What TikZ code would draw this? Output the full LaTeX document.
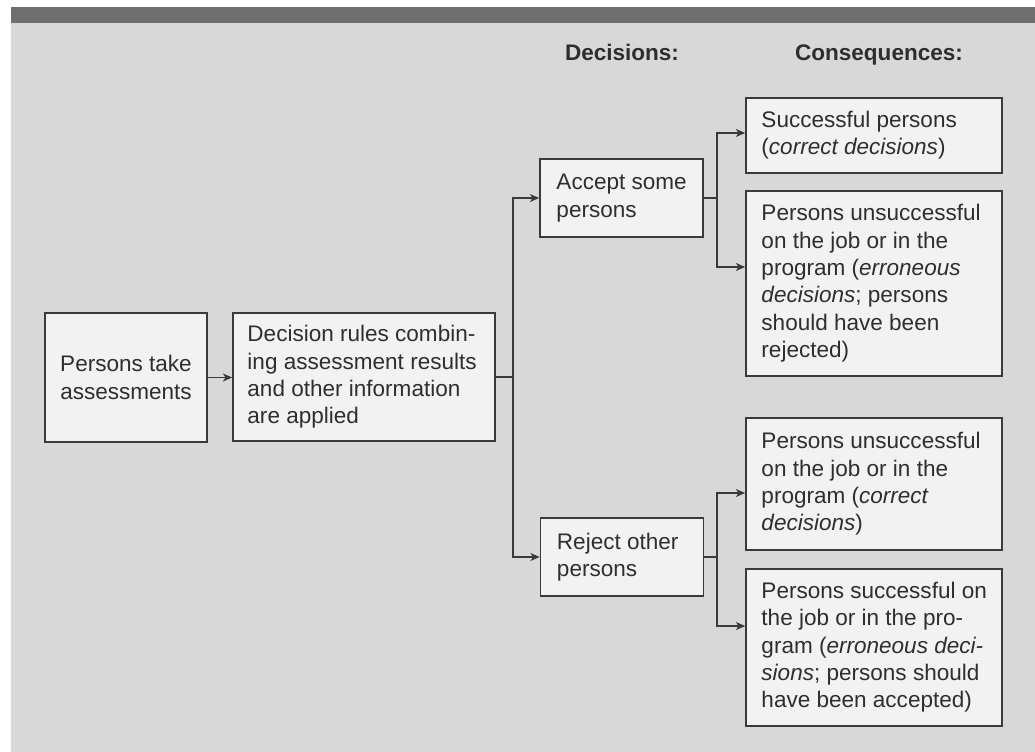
\documentclass[tikz,border=0pt]{standalone}
\usepackage{fontspec}
\setmainfont{Liberation Sans}
\usetikzlibrary{arrows.meta,calc}
\definecolor{bandc}{HTML}{6E6E6E}
\definecolor{bgc}{HTML}{D8D8D8}
\definecolor{boxc}{HTML}{F2F2F2}
\definecolor{linec}{HTML}{3A3A3A}
\definecolor{txtc}{HTML}{2E2E2E}
\begin{document}
\begin{tikzpicture}[x=0.75pt,y=-0.75pt,
  every node/.style={text=txtc},
  boxnode/.style={draw=linec,fill=boxc,line width=1.2pt,inner sep=0pt},
  txtnode/.style={font=\fontsize{16.9}{20.5}\selectfont,align=left,inner sep=0pt,anchor=west},
  headnode/.style={font=\fontsize{16.9}{20.5}\selectfont\bfseries,inner sep=0pt,anchor=base},
  arr/.style={draw=linec,line width=0.9pt,-{Stealth[length=7pt,width=6pt,inset=2pt]}},
  ln/.style={draw=linec,line width=0.9pt}]
\useasboundingbox (0,0) rectangle (1035,752);
\fill[white] (0,0) rectangle (1035,752);
\fill[bgc] (11,7) rectangle (1035,752);
\fill[bandc] (11,7) rectangle (1035,23);

% headers
\node[headnode] (hd) at (622,61) {Decisions:};
\node[headnode] (hc) at (879,61) {Consequences:};

% boxes
\node[boxnode,minimum width=121.5pt,minimum height=96.75pt,
  font=\fontsize{16.9}{20.5}\selectfont,align=center] (b1) at (126,377.5)
  {Persons take\\assessments};
\node[boxnode,minimum width=196.5pt,minimum height=96pt] (b2) at (364,377) {};
\node[txtnode] (b2t) at ([xshift=11.25pt]b2.west)
  {Decision rules combin-\\ing assessment results\\and other information\\are applied};

\node[boxnode,minimum width=122.25pt,minimum height=58.5pt] (a) at (621.5,198) {};
\node[txtnode] (at) at ([xshift=12.75pt]a.west) {Accept some\\persons};
\node[boxnode,minimum width=122.25pt,minimum height=58.5pt] (r) at (622,557) {};
\node[txtnode] (rt) at ([xshift=12.75pt]r.west) {Reject other\\persons};

\node[boxnode,minimum width=192pt,minimum height=56.25pt] (c1) at (874,135.5) {};
\node[txtnode] (c1t) at ([xshift=12pt]c1.west)
  {Successful persons\\(\textit{correct decisions})};
\node[boxnode,minimum width=192pt,minimum height=138.75pt] (c2) at (874,283.5) {};
\node[txtnode] (c2t) at ([xshift=12pt]c2.west)
  {Persons unsuccessful\\on the job or in the\\program (\textit{erroneous}\\\textit{decisions}; persons\\should have been\\rejected)};
\node[boxnode,minimum width=192pt,minimum height=99pt] (c3) at (874,484) {};
\node[txtnode] (c3t) at ([xshift=12pt]c3.west)
  {Persons unsuccessful\\on the job or in the\\program (\textit{correct}\\\textit{decisions})};
\node[boxnode,minimum width=192pt,minimum height=117.75pt] (c4) at (874,647.5) {};
\node[txtnode] (c4t) at ([xshift=12pt]c4.west)
  {Persons successful on\\the job or in the pro-\\gram (\textit{erroneous deci-}\\\textit{sions}; persons should\\have been accepted)};

% junctions
\coordinate (j1) at (513,377);
\coordinate (j2) at (717,198);
\coordinate (j3) at (717,557);

% connectors
\draw[arr] (b1.east) -- (b1.east -| b2.west);
\draw[ln] (b2.east) -- (j1);
\draw[arr] (j1) |- (a.west);
\draw[arr] (j1) |- (r.west);
\draw[ln] (a.east) -- (j2);
\draw[arr] (j2) |- ([yshift=1.9pt]c1.west);
\draw[arr] (j2) |- ([yshift=12.4pt]c2.west);
\draw[ln] (r.east) -- (j3);
\draw[arr] (j3) |- ([yshift=-6.75pt]c3.west);
\draw[arr] (j3) |- ([yshift=16.1pt]c4.west);
\end{tikzpicture}
\end{document}
